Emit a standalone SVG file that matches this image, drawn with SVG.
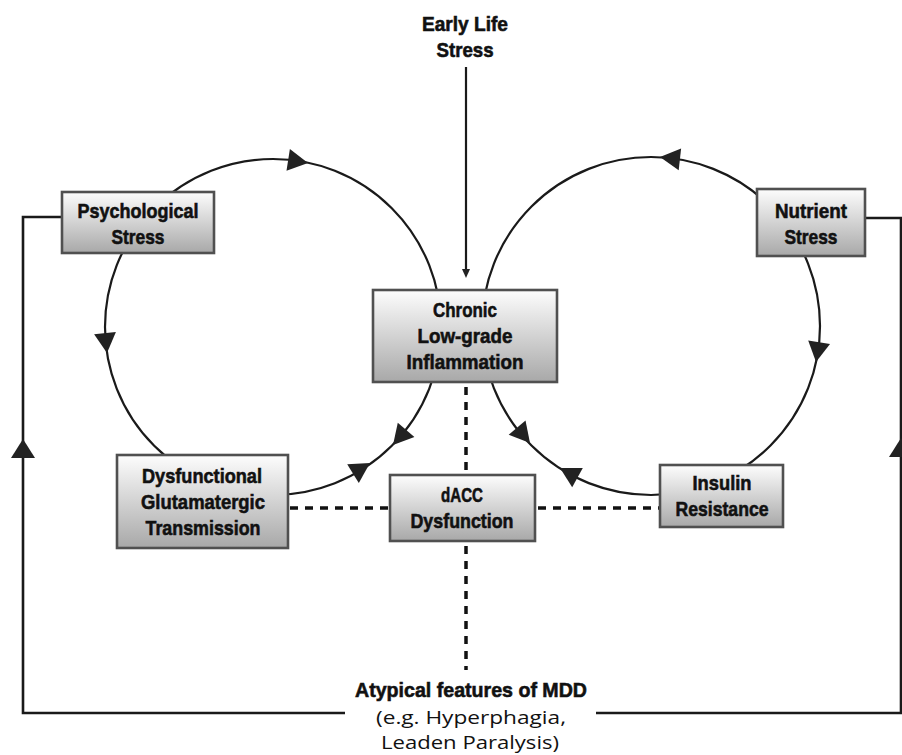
<svg xmlns="http://www.w3.org/2000/svg" width="902" height="755" viewBox="0 0 902 755">
<defs>
<linearGradient id="boxg" x1="0" y1="0" x2="0" y2="1">
<stop offset="0" stop-color="#fdfdfd"/>
<stop offset="1" stop-color="#a8a8a8"/>
</linearGradient>
<style>
.box{fill:url(#boxg);stroke:#505050;stroke-width:2.6}
.t{font-family:"Liberation Sans",Arial,sans-serif;font-weight:bold;font-size:21px;fill:#111;stroke:#111;stroke-width:0.6;text-anchor:middle}
.n{font-family:"Open Sans","Noto Sans",sans-serif;font-size:19px;fill:#111;text-anchor:middle}
.ln{fill:none;stroke:#1a1a1a;stroke-width:2.2}
.fb{fill:none;stroke:#1a1a1a;stroke-width:2.6}
.ds{fill:none;stroke:#111;stroke-width:3.5;stroke-dasharray:8 7}
.ah{fill:#222}
</style>
</defs>
<rect width="902" height="755" fill="#ffffff"/>
<g id="connectors">
<circle class="ln" cx="273" cy="327" r="168"/>
<circle class="ln" cx="651" cy="326" r="169"/>
<polygon class="ah" points="308,163 289.9,149 286.5,170.8"/>
<polygon class="ah" points="107,353 94.1,334.2 115.9,332"/>
<polygon class="ah" points="393,445 397.8,422.7 414.4,437.1"/>
<polygon class="ah" points="370,463 358.8,482.9 347.2,464.3"/>
<polygon class="ah" points="660,157 681.1,148.4 678.7,170.2"/>
<polygon class="ah" points="816,362 808.2,340.5 830,343.9"/>
<polygon class="ah" points="530,443 508.7,434.8 525.5,420.6"/>
<polygon class="ah" points="560,468 582.8,468.1 572.2,487.3"/>
<line class="ln" x1="466" y1="67" x2="466" y2="271"/>
<polygon class="ah" points="466,278 462,269 470,269"/>
<polyline class="fb" points="62,217 23,217 23,713 345,713"/>
<polyline class="fb" points="596,713 901,713 901,218 866,218"/>
<polygon class="ah" points="23,439 11,458 35,458"/>
<polygon class="ah" points="901,438 889,457 913,457"/>
<line class="ds" x1="466" y1="387" x2="466" y2="472"/>
<line class="ds" x1="466" y1="546" x2="466" y2="670"/>
<line class="ds" x1="290" y1="508" x2="390" y2="508"/>
<line class="ds" x1="538" y1="508" x2="660" y2="508"/>
</g>
<g id="psychological-stress">
<rect class="box" x="62" y="192" width="152" height="61"/>
<text class="t" x="138" y="218" textLength="121" lengthAdjust="spacingAndGlyphs">Psychological</text>
<text class="t" x="138" y="244" textLength="53" lengthAdjust="spacingAndGlyphs">Stress</text>
</g>
<g id="nutrient-stress">
<rect class="box" x="757" y="189" width="108" height="67"/>
<text class="t" x="811" y="218" textLength="72" lengthAdjust="spacingAndGlyphs">Nutrient</text>
<text class="t" x="811" y="244" textLength="53" lengthAdjust="spacingAndGlyphs">Stress</text>
</g>
<g id="chronic-inflammation">
<rect class="box" x="373" y="290" width="184" height="92"/>
<text class="t" x="465" y="317" textLength="64" lengthAdjust="spacingAndGlyphs">Chronic</text>
<text class="t" x="465" y="343" textLength="95" lengthAdjust="spacingAndGlyphs">Low-grade</text>
<text class="t" x="465" y="369" textLength="117" lengthAdjust="spacingAndGlyphs">Inflammation</text>
</g>
<g id="dysfunctional-glutamatergic">
<rect class="box" x="117" y="455" width="171" height="93"/>
<text class="t" x="202" y="483" textLength="120" lengthAdjust="spacingAndGlyphs">Dysfunctional</text>
<text class="t" x="203" y="509" textLength="124" lengthAdjust="spacingAndGlyphs">Glutamatergic</text>
<text class="t" x="203" y="535" textLength="115" lengthAdjust="spacingAndGlyphs">Transmission</text>
</g>
<g id="dacc-dysfunction">
<rect class="box" x="390" y="475" width="145" height="66"/>
<text class="t" x="462" y="502" textLength="42" lengthAdjust="spacingAndGlyphs">dACC</text>
<text class="t" x="462" y="528" textLength="103" lengthAdjust="spacingAndGlyphs">Dysfunction</text>
</g>
<g id="insulin-resistance">
<rect class="box" x="660" y="465" width="123" height="62"/>
<text class="t" x="722" y="490" textLength="59" lengthAdjust="spacingAndGlyphs">Insulin</text>
<text class="t" x="722" y="516" textLength="93" lengthAdjust="spacingAndGlyphs">Resistance</text>
</g>
<g id="early-life-stress">
<text class="t" x="465" y="31" textLength="86" lengthAdjust="spacingAndGlyphs">Early Life</text>
<text class="t" x="465" y="57" textLength="57" lengthAdjust="spacingAndGlyphs">Stress</text>
</g>
<g id="atypical-features">
<text class="t" x="471" y="697" textLength="232" lengthAdjust="spacingAndGlyphs">Atypical features of MDD</text>
<text class="n" x="471" y="724" textLength="190" lengthAdjust="spacingAndGlyphs">(e.g. Hyperphagia,</text>
<text class="n" x="470" y="749" textLength="178" lengthAdjust="spacingAndGlyphs">Leaden Paralysis)</text>
</g>
</svg>
